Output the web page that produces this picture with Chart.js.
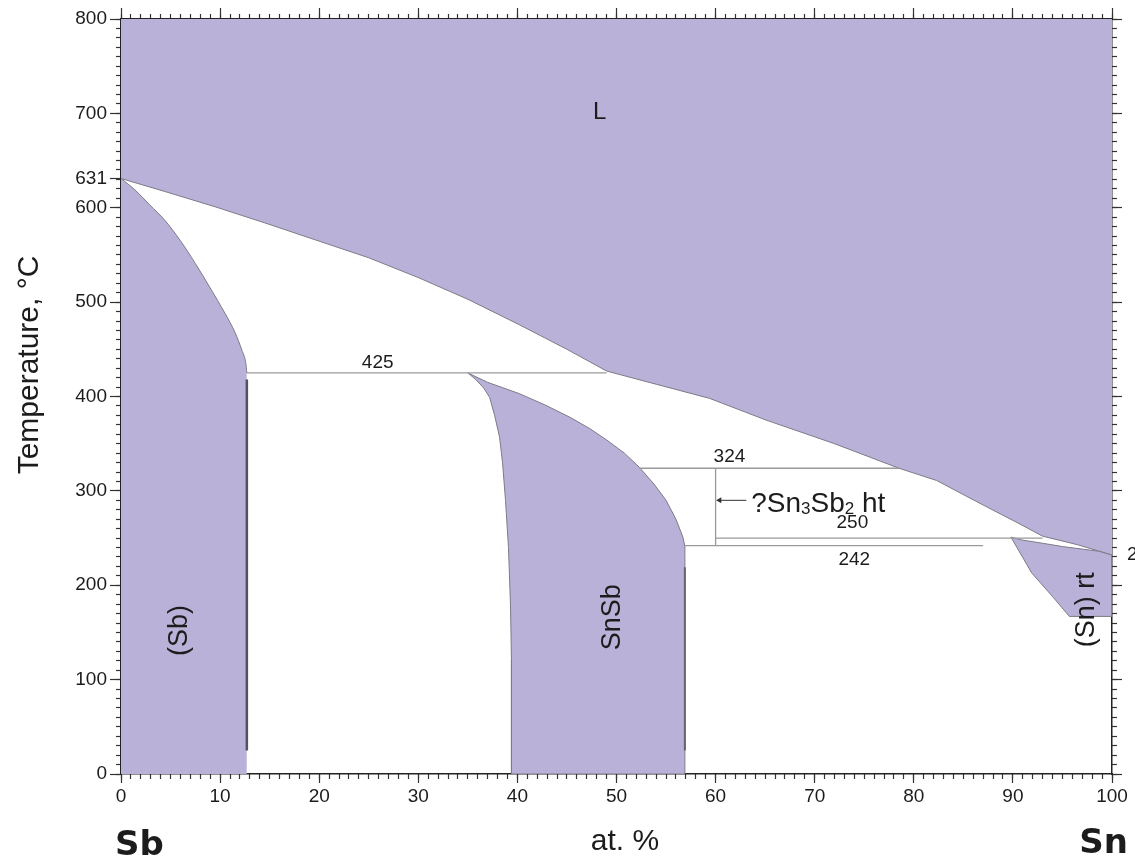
<!DOCTYPE html>
<html>
<head>
<meta charset="utf-8">
<title>Sb–Sn</title>
<script src="https://cdn.jsdelivr.net/npm/chart.js@4.4.1/dist/chart.umd.min.js"></script>
<style>
  html, body { margin: 0; padding: 0; background: #fff; }
  canvas { display: block; }
</style>
</head>
<body>
<canvas id="phaseChart" width="1135" height="861"></canvas>
<script>
// Sb–Sn phase diagram: x = at.% Sn, y = temperature in °C

const SB_MELT = 631;
const SN_MELT = 232;

// liquidus from pure Sb to pure Sn
const liquidus = [
  [0, SB_MELT], [4.5, 617], [9.5, 601], [14.5, 584], [19.6, 566], [25, 547],
  [30, 526], [35, 503], [40.2, 476], [45, 450], [49, 427], [54, 413],
  [59.4, 398], [65.1, 375], [72, 350], [78.5, 324], [82.3, 311], [87, 285],
  [90.5, 266], [93, 252], [96.5, 243], [100, SN_MELT]
];

// (Sb) solid solution boundary, filled down to 0 °C
const sbSolvus = [
  [0, SB_MELT], [1.4, 619], [2.9, 603], [4.4, 587], [6, 565], [7.5, 541],
  [9, 515], [10.5, 488], [11.5, 468], [12.2, 449], [12.6, 435], [12.7, 425]
];

// SnSb single phase field, closed outline
const snsbField = [
  [35, 425], [35.8, 418], [36.6, 409], [37.2, 399], [37.7, 380], [38.2, 357],
  [38.5, 330], [38.8, 290], [39.1, 240], [39.3, 180], [39.4, 121], [39.4, 0],
  [56.9, 0], [56.9, 241], [56.7, 251], [56, 270], [55, 290], [53.8, 307],
  [52.3, 325], [50.8, 340], [49, 354], [47.3, 366], [45.3, 378], [42.8, 391],
  [40.2, 403], [37, 415], [35, 425]
];

// (Sn) rt field, closed outline
const snField = [
  [89.8, 251], [90.9, 248], [93, 244.5], [95, 241], [98.7, 236], [100, SN_MELT],
  [100, 167], [95.7, 167], [94, 188], [91.9, 213], [89.8, 251]
];

// invariant isotherms
const tieTemps = [425, 324, 250, 242];
const tieFrom = [12.7, 52.3, 60, 56.9];
const tieTo = [49, 78.5, 93, 87];

// Sn3Sb2 ht composition line
const sn3sb2X = 60;

// darker solid edges
const sbEdge = [[12.7, 25], [12.7, 418]];
const snsbEdge = [[56.9, 25], [56.9, 219]];

const xMajorStep = 10, xMinorStep = 1;
const yMajorStep = 100, yMinorStep = 10;

const PURPLE = '#b9b1d7';
const EDGE = '#7d7a88';
const INK = '#1c1c1c';
const FONT = '"Liberation Sans", Arial, Helvetica, sans-serif';

const pts = arr => arr.map(p => ({ x: p[0], y: p[1] }));

const datasets = [];

// isotherm lines
tieTemps.forEach((t, i) => {
  datasets.push({
    data: pts([[tieFrom[i], t], [tieTo[i], t]]),
    borderColor: '#9a9a9a', borderWidth: 1.3, pointRadius: 0, fill: false
  });
});
datasets.push({
  data: pts([[sn3sb2X, tieTemps[3]], [sn3sb2X, tieTemps[1]]]),
  borderColor: '#9a9a9a', borderWidth: 1.3, pointRadius: 0, fill: false
});
// arrow to the Sn3Sb2 line
datasets.push({
  data: pts([[63.1, 290], [sn3sb2X + 0.4, 290]]),
  borderColor: '#333', borderWidth: 1, pointStyle: 'triangle',
  pointRotation: -90, pointRadius: [0, 3.5], pointBackgroundColor: '#333',
  pointBorderWidth: 0, fill: false
});
datasets.push({
  data: pts(sbEdge), borderColor: '#55525f', borderWidth: 2.5, pointRadius: 0, fill: false
});
datasets.push({
  data: pts(snsbEdge), borderColor: '#66636f', borderWidth: 2, pointRadius: 0, fill: false
});
// phase fields
datasets.push({
  data: pts(snField), borderColor: EDGE, borderWidth: 1, pointRadius: 0,
  backgroundColor: PURPLE, fill: 'shape'
});
datasets.push({
  data: pts(snsbField), borderColor: EDGE, borderWidth: 1, pointRadius: 0,
  backgroundColor: PURPLE, fill: 'shape'
});
datasets.push({
  data: pts(sbSolvus), borderColor: EDGE, borderWidth: 1, pointRadius: 0,
  backgroundColor: PURPLE, fill: 'start', cubicInterpolationMode: 'monotone'
});
datasets.push({
  data: pts(liquidus), borderColor: EDGE, borderWidth: 1, pointRadius: 0,
  backgroundColor: PURPLE, fill: 'end'
});

// text inside the plot, anchored in data units
const regionLabels = [
  { text: 'L', x: 48.3, t: 701, size: 24, rotate: false },
  { text: '(Sb)', x: 5.9, t: 152, size: 27, rotate: true },
  { text: 'SnSb', x: 49.6, t: 166, size: 27, rotate: true },
  { text: '(Sn) rt', x: 97.4, t: 174, size: 27, rotate: true }
];
const tieLabelX = [25.9, 61.4, 73.8, 74.0];
const tieLabelDT = [11, 12, 16, -15];

const textPlugin = {
  id: 'phaseText',
  afterDatasetsDraw(chart) {
    const { ctx } = chart;
    const x = chart.scales.x, y = chart.scales.y;
    ctx.save();
    ctx.fillStyle = INK;
    ctx.textAlign = 'center';
    ctx.textBaseline = 'middle';

    ctx.font = '19px ' + FONT;
    tieTemps.forEach((t, i) => {
      ctx.fillText(String(t), x.getPixelForValue(tieLabelX[i]), y.getPixelForValue(t + tieLabelDT[i]));
    });

    regionLabels.forEach(l => {
      const px = x.getPixelForValue(l.x), py = y.getPixelForValue(l.t);
      ctx.font = l.size + 'px ' + FONT;
      if (l.rotate) {
        ctx.save();
        ctx.translate(px, py);
        ctx.rotate(-Math.PI / 2);
        ctx.fillText(l.text, 0, 0);
        ctx.restore();
      } else {
        ctx.fillText(l.text, px, py);
      }
    });

    // ?Sn3Sb2 ht with subscripts
    const parts = [['?Sn', 28, 0], ['3', 17, 2], ['Sb', 28, 0], ['2', 17, 2], [' ht', 28, 0]];
    let cx = x.getPixelForValue(63.6);
    const base = y.getPixelForValue(288) + 10;
    ctx.textAlign = 'left';
    ctx.textBaseline = 'alphabetic';
    parts.forEach(([s, size, dy]) => {
      ctx.font = size + 'px ' + FONT;
      ctx.fillText(s, cx, base + dy);
      cx += ctx.measureText(s).width;
    });

    // Sn melting point on the right edge
    ctx.font = '19px ' + FONT;
    ctx.textBaseline = 'middle';
    ctx.fillText(String(SN_MELT), x.getPixelForValue(100) + 15, y.getPixelForValue(SN_MELT));

    // axis titles and end members
    ctx.font = '30px ' + FONT;
    ctx.textAlign = 'center';
    ctx.save();
    ctx.translate(30, 365);
    ctx.rotate(-Math.PI / 2);
    ctx.fillText('Temperature, °C', 0, 0);
    ctx.restore();
    ctx.textBaseline = 'alphabetic';
    ctx.fillText('at. %', 625, 850);

    ctx.font = 'bold 34px "DejaVu Sans", sans-serif';
    ctx.textAlign = 'left';
    ctx.fillText('Sb', 115, 855);
    ctx.textAlign = 'right';
    ctx.fillText('Sn', 1128, 853);
    ctx.restore();
  }
};

const tickFont = { family: FONT, size: 19 };

function axis(position, min, max, step, opts) {
  const horizontal = position === 'top' || position === 'bottom';
  return {
    type: 'linear',
    position,
    min, max,
    weight: opts.weight,
    ticks: {
      display: !!opts.labels,
      stepSize: step,
      maxTicksLimit: 200,
      autoSkip: false,
      maxRotation: 0,
      font: tickFont,
      color: INK,
      padding: opts.padding || 3,
      callback: v => String(v)
    },
    grid: {
      drawOnChartArea: false,
      drawTicks: true,
      tickLength: opts.tick,
      tickColor: '#333',
      tickWidth: 1.2
    },
    border: { display: !!opts.border, color: '#222', width: 1.5 },
    afterBuildTicks: opts.extra ? s => {
      s.ticks.push({ value: opts.extra });
      s.ticks.sort((a, b) => a.value - b.value);
    } : undefined,
    afterFit: s => {
      if (horizontal) s.height = opts.size; else s.width = opts.size;
    }
  };
}

new Chart(document.getElementById('phaseChart'), {
  type: 'line',
  data: { datasets },
  options: {
    responsive: false,
    devicePixelRatio: 1,
    animation: false,
    events: [],
    layout: { padding: 0 },
    plugins: { legend: { display: false }, tooltip: { enabled: false } },
    scales: {
      x: axis('bottom', 0, 100, xMajorStep, { weight: 1, labels: true, border: true, tick: 9, size: 87, padding: 2 }),
      xMinor: axis('bottom', 0, 100, xMinorStep, { weight: 0, tick: 5, size: 0 }),
      x2: axis('top', 0, 100, xMajorStep, { weight: 1, border: true, tick: 11, size: 19 }),
      x2Minor: axis('top', 0, 100, xMinorStep, { weight: 0, tick: 5, size: 0 }),
      y: axis('left', 0, 800, yMajorStep, { weight: 1, labels: true, border: true, tick: 11, size: 121, extra: SB_MELT }),
      yMinor: axis('left', 0, 800, yMinorStep, { weight: 0, tick: 5, size: 0 }),
      y2: axis('right', 0, 800, yMajorStep, { weight: 1, border: true, tick: 10, size: 23 }),
      y2Minor: axis('right', 0, 800, yMinorStep, { weight: 0, tick: 5, size: 0 })
    }
  },
  plugins: [textPlugin]
});
</script>
</body>
</html>
